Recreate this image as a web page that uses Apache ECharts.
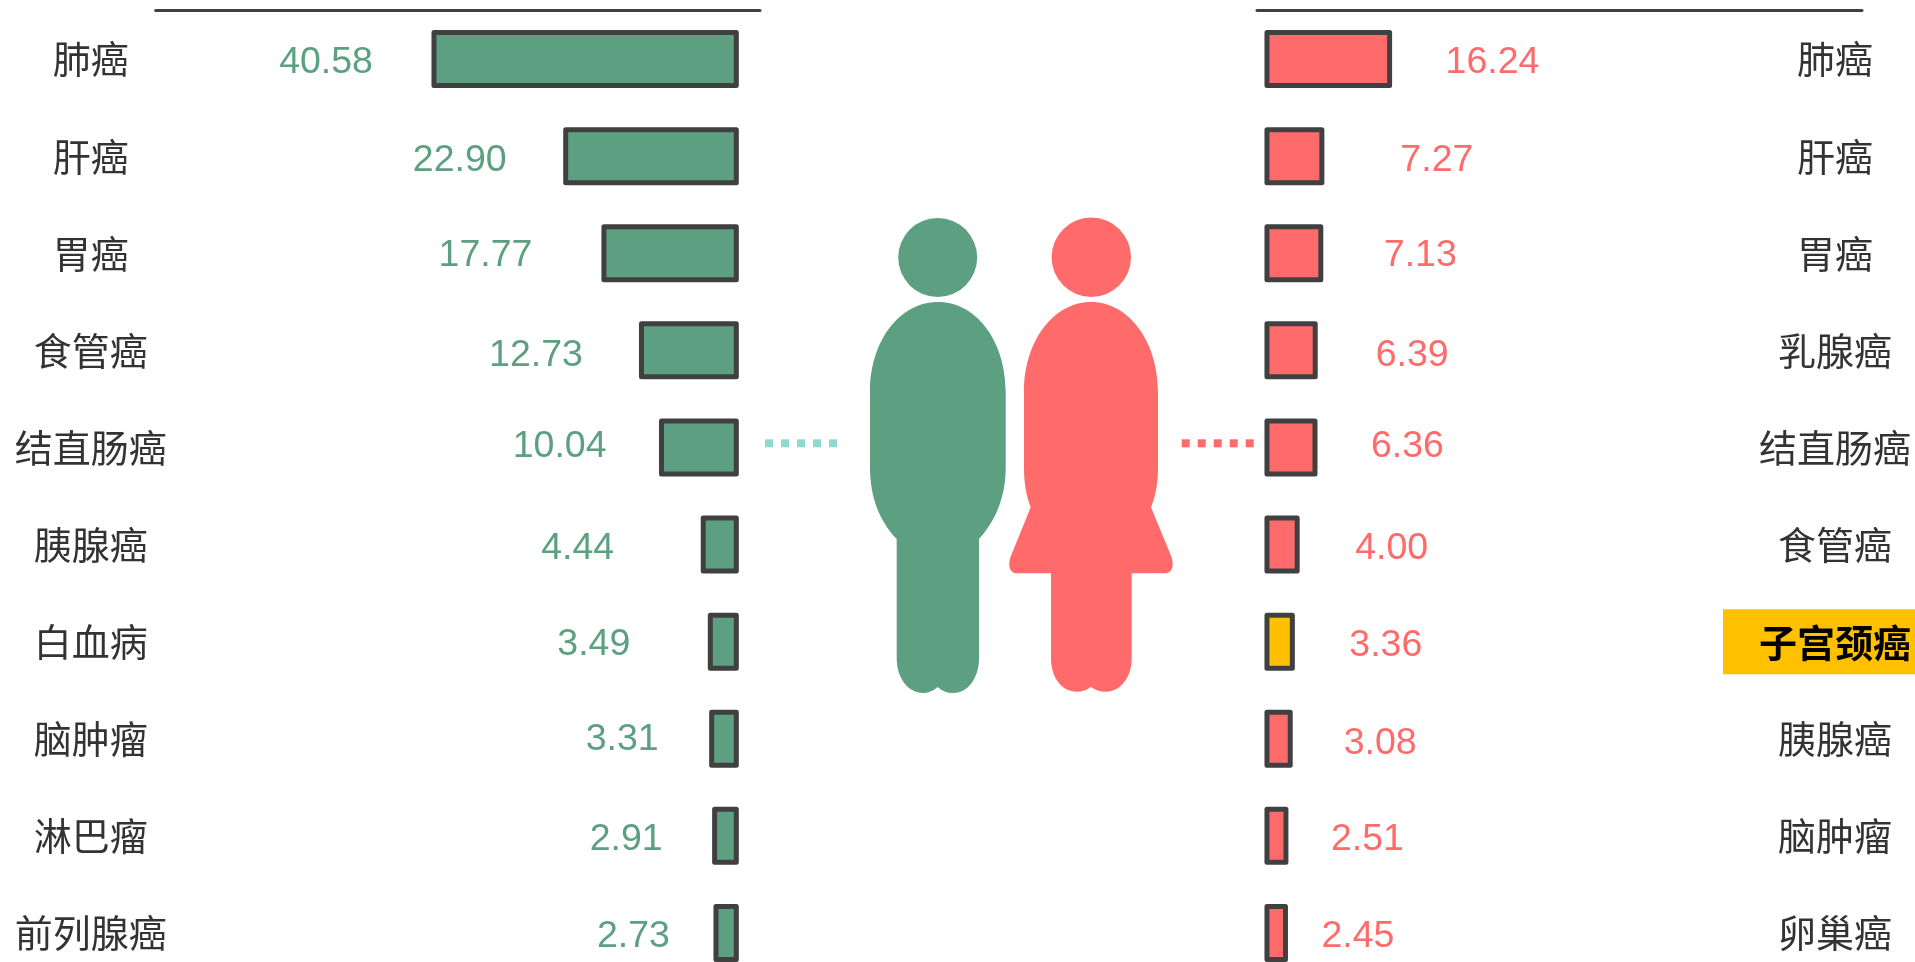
<!DOCTYPE html>
<html>
<head>
<meta charset="utf-8">
<style>
  html, body { margin: 0; padding: 0; background: #fff; overflow: hidden; }
  #chart { width: 1915px; height: 962px; }
</style>
<script src="https://cdn.jsdelivr.net/npm/echarts@6/dist/echarts.min.js"></script>
</head>
<body>
<div id="chart"></div>
<script>
// male
const maleCancers = ["肺癌", "肝癌", "胃癌", "食管癌", "结直肠癌", "胰腺癌", "白血病", "脑肿瘤", "淋巴瘤", "前列腺癌"];
const maleValues = [40.58, 22.9, 17.77, 12.73, 10.04, 4.44, 3.49, 3.31, 2.91, 2.73];

// female
const femaleCancers = ["肺癌", "肝癌", "胃癌", "乳腺癌", "结直肠癌", "食管癌", "子宫颈癌", "胰腺癌", "脑肿瘤", "卵巢癌"];
const femaleValues = [16.24, 7.27, 7.13, 6.39, 6.36, 4.0, 3.36, 3.08, 2.51, 2.45];

const highlightCancer = "子宫颈癌";

// the value labels sit by hand in the original, so they don't share one gap
const maleLabelGap = [58.5, 56.5, 69, 56, 52.5, 86.5, 77.5, 50.5, 49.5, 43.5];
const maleLabelNudge = [3.5, 4.5, 2.5, 5.5, -0.5, 4.5, 3.5, 0.5, 3.5, 3.5];
const femaleLabelGap = [53.5, 76, 60.5, 58, 53.5, 55.5, 54.5, 51, 42.5, 33.5];
const femaleLabelNudge = [3.5, 4.5, 2.5, 5.5, -0.5, 4.5, 4.5, 4.5, 3.5, 3.5];

const GREEN = "#5ca081";
const RED = "#ff6b6b";
const YELLOW = "#ffc000";
const DARK = "#404040";

const manBody =
  "M896.7 539 C880 522 870 497 870 468 L870 391.7 C870 342 899 302 938 302 C977 302 1005.7 342 1005.7 391.7 " +
  "L1005.7 468 C1005.7 497 995 522 979 539 L979 658 C979 678 968 693 953.3 693 C947 693 942 691 937.7 687 " +
  "C933 691 928 693 923.3 693 C908 693 896.7 678 896.7 658 Z";
const womanBody =
  "M1030.7 507.3 C1026 495 1024 482 1024 468 L1024 391.7 C1024 342 1053 302 1091 302 C1129 302 1158 342 1158 391.7 " +
  "L1158 468 C1158 482 1156 495 1151 507.3 L1171.5 557 C1174.5 566 1172 573.3 1165 573.3 L1131.7 573.3 L1131.7 658 " +
  "C1131.7 678 1120 691.7 1106 691.7 C1100 691.7 1095 690 1091 686.7 C1087 690 1082 691.7 1076.7 691.7 " +
  "C1062 691.7 1051 678 1051 658 L1051 573.3 L1016.7 573.3 C1010 573.3 1007.5 566 1010.5 557 Z";

// custom bars: the built-in bar insets its border, which would make the small
// bars too thin. here the stroke is centred on the value like in the original
function barSeries(index, values, cancers, color, position, gaps, nudges) {
  return {
    type: "custom",
    xAxisIndex: index,
    yAxisIndex: index,
    silent: true,
    encode: { x: 0, y: 1 },
    data: values.map((v, i) => [v, i]),
    renderItem: (params, api) => {
      const i = api.value(1);
      const start = api.coord([0, i]);
      const end = api.coord([api.value(0), i]);
      const barHeight = 53;
      return {
        type: "rect",
        shape: {
          x: Math.min(start[0], end[0]),
          y: start[1] - barHeight / 2,
          width: Math.abs(end[0] - start[0]),
          height: barHeight,
        },
        style: {
          fill: cancers[i] === highlightCancer ? YELLOW : color,
          stroke: DARK,
          lineWidth: 5,
          lineJoin: "round",
        },
        textContent: {
          style: {
            text: api.value(0).toFixed(2),
            fill: color,
            fontSize: 37.5,
            fontFamily: "Liberation Sans",
          },
        },
        textConfig: { position: position, distance: gaps[i], offset: [0, nudges[i]], inside: false },
      };
    },
  };
}

function valueAxis(index, inverse, min, max) {
  return {
    type: "value",
    gridIndex: index,
    position: "top",
    inverse: inverse,
    min: min,
    max: max,
    axisLine: { show: true, onZero: false, lineStyle: { color: DARK, width: 3 } },
    axisTick: { show: false },
    axisLabel: { show: false },
    splitLine: { show: false },
  };
}

function categoryAxis(index, cancers, position, margin) {
  return {
    type: "category",
    gridIndex: index,
    position: position,
    inverse: true,
    data: cancers,
    axisLine: { show: false },
    axisTick: { show: false },
    axisLabel: {
      margin: margin,
      align: "center",
      color: "#333",
      fontSize: 38,
      fontFamily: "Noto Sans CJK SC",
      formatter: (name) => (name === highlightCancer ? "{hl|" + name + "}" : name),
      rich: {
        hl: {
          color: "#000",
          fontSize: 38,
          fontWeight: "bold",
          fontFamily: "Noto Sans CJK SC",
          backgroundColor: YELLOW,
          lineHeight: 38,
          padding: [14, 36, 13, 36],
        },
      },
    },
  };
}

// the two people in the middle are decoration, not data
function renderPeople() {
  return {
    type: "group",
    children: [
      { type: "circle", shape: { cx: 937.7, cy: 257.5, r: 39.5 }, style: { fill: GREEN } },
      { type: "path", shape: { pathData: manBody }, style: { fill: GREEN } },
      { type: "circle", shape: { cx: 1091.3, cy: 257.3, r: 39.7 }, style: { fill: RED } },
      { type: "path", shape: { pathData: womanBody }, style: { fill: RED } },
    ],
  };
}

var chartDom = document.querySelector("#chart");
var myChart = echarts.init(chartDom);
var option = {
  animation: false,
  backgroundColor: "#fff",
  grid: [
    { left: 155.7, width: 604.3, top: 10.5, height: 971, outerBoundsMode: "none" },
    { left: 1257, width: 605, top: 10.5, height: 971, outerBoundsMode: "none" },
  ],
  xAxis: [valueAxis(0, true, -3.18, 77.93), valueAxis(1, false, -1.32, 78.8)],
  yAxis: [
    categoryAxis(0, maleCancers, "left", 65),
    categoryAxis(1, femaleCancers, "right", -27),
  ],
  series: [
    barSeries(0, maleValues, maleCancers, GREEN, "left", maleLabelGap, maleLabelNudge),
    barSeries(1, femaleValues, femaleCancers, RED, "right", femaleLabelGap, femaleLabelNudge),
    { type: "custom", coordinateSystem: "none", silent: true, data: [0], renderItem: renderPeople },
  ],
  graphic: [
    {
      type: "line",
      shape: { x1: 765, y1: 443.3, x2: 838, y2: 443.3 },
      style: { stroke: "#8fd9cd", lineWidth: 8, lineDash: [8, 8] },
    },
    {
      type: "line",
      shape: { x1: 1181.7, y1: 443.3, x2: 1254, y2: 443.3 },
      style: { stroke: RED, lineWidth: 8, lineDash: [8, 8] },
    },
  ],
};

myChart.setOption(option);
</script>
</body>
</html>
